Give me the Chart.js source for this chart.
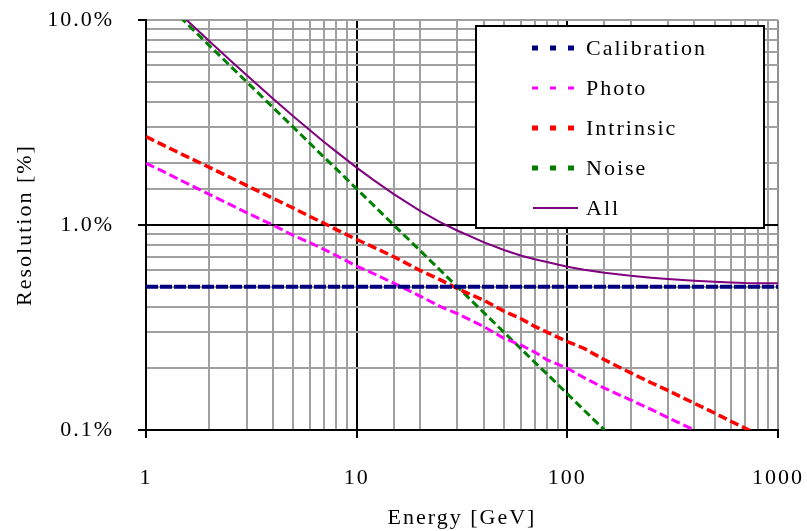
<!DOCTYPE html>
<html>
<head>
<meta charset="utf-8">
<script src="https://cdn.jsdelivr.net/npm/chart.js@4/dist/chart.umd.min.js"></script>
<style>
html,body{margin:0;padding:0;background:#fff;}
#wrap{width:807px;height:531px;position:relative;}
</style>
</head>
<body>
<div id="wrap"><canvas id="c" width="807" height="531"></canvas></div>
<script>
// Energies (GeV) and resolutions (%)
const energies = [1, 1.2, 1.5, 2, 2.5, 3, 4, 5, 6, 7, 8, 10, 12, 15, 20, 25, 30, 40, 50, 60, 70, 80, 100, 120, 150, 200, 250, 300, 400, 500, 600, 700, 800, 1000];
const calibration = [0.5, 0.5, 0.5, 0.5, 0.5, 0.5, 0.5, 0.5, 0.5, 0.5, 0.5, 0.5, 0.5, 0.5, 0.5, 0.5, 0.5, 0.5, 0.5, 0.5, 0.5, 0.5, 0.5, 0.5, 0.5, 0.5, 0.5, 0.5, 0.5, 0.5, 0.5, 0.5, 0.5, 0.5];
const photo = [2.0, 1.83, 1.63, 1.41, 1.26, 1.15, 1.0, 0.89, 0.82, 0.76, 0.71, 0.63, 0.58, 0.52, 0.45, 0.40, 0.37, 0.32, 0.28, 0.26, 0.24, 0.22, 0.20, 0.18, 0.16, 0.14, 0.126, 0.115, 0.10, null, null, null, null, null];
const intrinsic = [2.7, 2.46, 2.2, 1.91, 1.71, 1.56, 1.35, 1.21, 1.10, 1.02, 0.95, 0.85, 0.78, 0.70, 0.60, 0.54, 0.49, 0.43, 0.38, 0.35, 0.32, 0.30, 0.27, 0.25, 0.22, 0.19, 0.17, 0.156, 0.135, 0.121, 0.11, 0.102, 0.095, null];
const noise = [null, 12.5, 10.0, 7.5, 6.0, 5.0, 3.75, 3.0, 2.5, 2.14, 1.88, 1.5, 1.25, 1.0, 0.75, 0.60, 0.50, 0.375, 0.30, 0.25, 0.214, 0.188, 0.15, 0.125, 0.10, null, null, null, null, null, null, null, null, null];
const all = [null, 12.9, 10.38, 7.88, 6.38, 5.39, 4.14, 3.39, 2.90, 2.54, 2.28, 1.905, 1.66, 1.415, 1.173, 1.03, 0.94, 0.825, 0.755, 0.71, 0.68, 0.66, 0.625, 0.605, 0.585, 0.565, 0.553, 0.545, 0.535, 0.528, 0.524, 0.521, 0.52, 0.52];
const seriesNames = ["Calibration", "Photo", "Intrinsic", "Noise", "All"];
const xTickLabels = {1: "1", 10: "10", 100: "100", 1000: "1000"};
const yTickLabels = {0.1: "0.1%", 1: "1.0%", 10: "10.0%"};

const FONT = "'Liberation Serif', 'Times New Roman', serif";
const LS = '2px';
const FS = 22;

function pts(arr) {
  const out = [];
  arr.forEach((v, i) => { if (v !== null) out.push({x: energies[i], y: v}); });
  return out;
}
function isMajor(v) {
  const l = Math.log10(v);
  return Math.abs(l - Math.round(l)) < 1e-6;
}

const styles = [
  {color: '#000080', dash: [12, 2], width: 4},
  {color: '#FF00FF', dash: [9, 4], width: 3},
  {color: '#FF0000', dash: [9, 4], width: 3.5},
  {color: '#008000', dash: [8, 4], width: 3},
  {color: '#800080', dash: [], width: 2}
];
const dataArrays = [calibration, photo, intrinsic, noise, all];

const spacingPlugin = {
  id: 'spacing',
  beforeUpdate(chart) { chart.ctx.letterSpacing = LS; },
  beforeLayout(chart) { chart.ctx.letterSpacing = LS; },
  beforeDraw(chart) { chart.ctx.letterSpacing = LS; }
};

const legendPlugin = {
  id: 'boxLegend',
  afterDraw(chart) {
    const ctx = chart.ctx;
    ctx.save();
    ctx.letterSpacing = LS;
    const bx = 476, by = 26, bw = 288, bh = 202;
    ctx.fillStyle = '#fff';
    ctx.fillRect(bx, by, bw, bh);
    ctx.lineWidth = 2;
    ctx.strokeStyle = '#000';
    ctx.strokeRect(bx, by, bw, bh);
    ctx.font = FS + "px " + FONT;
    ctx.textBaseline = 'middle';
    ctx.textAlign = 'left';
    seriesNames.forEach((name, i) => {
      const y = 48 + i * 40;
      const st = styles[i];
      ctx.fillStyle = st.color;
      if (i === 4) {
        ctx.strokeStyle = st.color;
        ctx.lineWidth = 2;
        ctx.beginPath();
        ctx.moveTo(533, y);
        ctx.lineTo(578, y);
        ctx.stroke();
      } else {
        const h = (i === 1) ? 3 : 5;
        for (let k = 0; k < 3; k++) {
          ctx.fillRect(532 + k * 18, y - h / 2, 6, h);
        }
      }
      ctx.fillStyle = '#000';
      ctx.fillText(name, 586, y + 1);
    });
    ctx.restore();
  }
};

new Chart(document.getElementById('c'), {
  type: 'line',
  data: {
    datasets: seriesNames.map((n, i) => ({
      label: n,
      data: pts(dataArrays[i]),
      borderColor: styles[i].color,
      borderDash: styles[i].dash,
      borderWidth: styles[i].width,
      pointRadius: 0,
      fill: false,
      tension: 0
    }))
  },
  options: {
    responsive: false,
    animation: false,
    layout: {padding: {left: 0, right: 29, top: 20, bottom: 0}},
    plugins: {legend: {display: false}, tooltip: {enabled: false}},
    scales: {
      x: {
        type: 'logarithmic',
        min: 1, max: 1000,
        border: {display: true, color: '#000', width: 2},
        grid: {
          color: c => (c.tick.value === 1000) ? '#909090' : (isMajor(c.tick.value) ? '#000' : '#a0a0a0'),
          lineWidth: 2,
          tickColor: c => isMajor(c.tick.value) ? '#000' : 'rgba(0,0,0,0)',
          tickWidth: 2,
          tickLength: 8,
          drawTicks: true
        },
        ticks: {
          autoSkip: false,
          maxRotation: 0,
          padding: 27,
          color: '#000',
          font: {family: FONT, size: FS},
          callback: v => xTickLabels[v] !== undefined && isMajor(v) ? xTickLabels[v] : ''
        },
        title: {display: true, text: 'Energy [GeV]', color: '#000', font: {family: FONT, size: FS}, padding: {top: 0, bottom: 0}},
        afterFit(s) { s.height = 101; s.paddingLeft = 0; s.paddingRight = 0; }
      },
      y: {
        type: 'logarithmic',
        min: 0.1, max: 10,
        border: {display: true, color: '#000', width: 2},
        grid: {
          color: c => (c.tick.value === 10) ? '#a0a0a0' : (isMajor(c.tick.value) ? '#000' : '#a0a0a0'),
          lineWidth: 2,
          tickColor: c => isMajor(c.tick.value) ? '#000' : 'rgba(0,0,0,0)',
          tickWidth: 2,
          tickLength: 8,
          drawTicks: true
        },
        ticks: {
          autoSkip: false,
          padding: 24,
          color: '#000',
          font: {family: FONT, size: FS},
          callback: v => {
            for (const k in yTickLabels) { if (Math.abs(+k - v) < 1e-9) return yTickLabels[k]; }
            return '';
          }
        },
        title: {display: true, text: 'Resolution [%]', color: '#000', font: {family: FONT, size: FS}, padding: {top: 12, bottom: 0}},
        afterFit(s) { s.width = 146; s.paddingTop = 0; s.paddingBottom = 0; }
      }
    }
  },
  plugins: [spacingPlugin, legendPlugin]
});
</script>
</body>
</html>
